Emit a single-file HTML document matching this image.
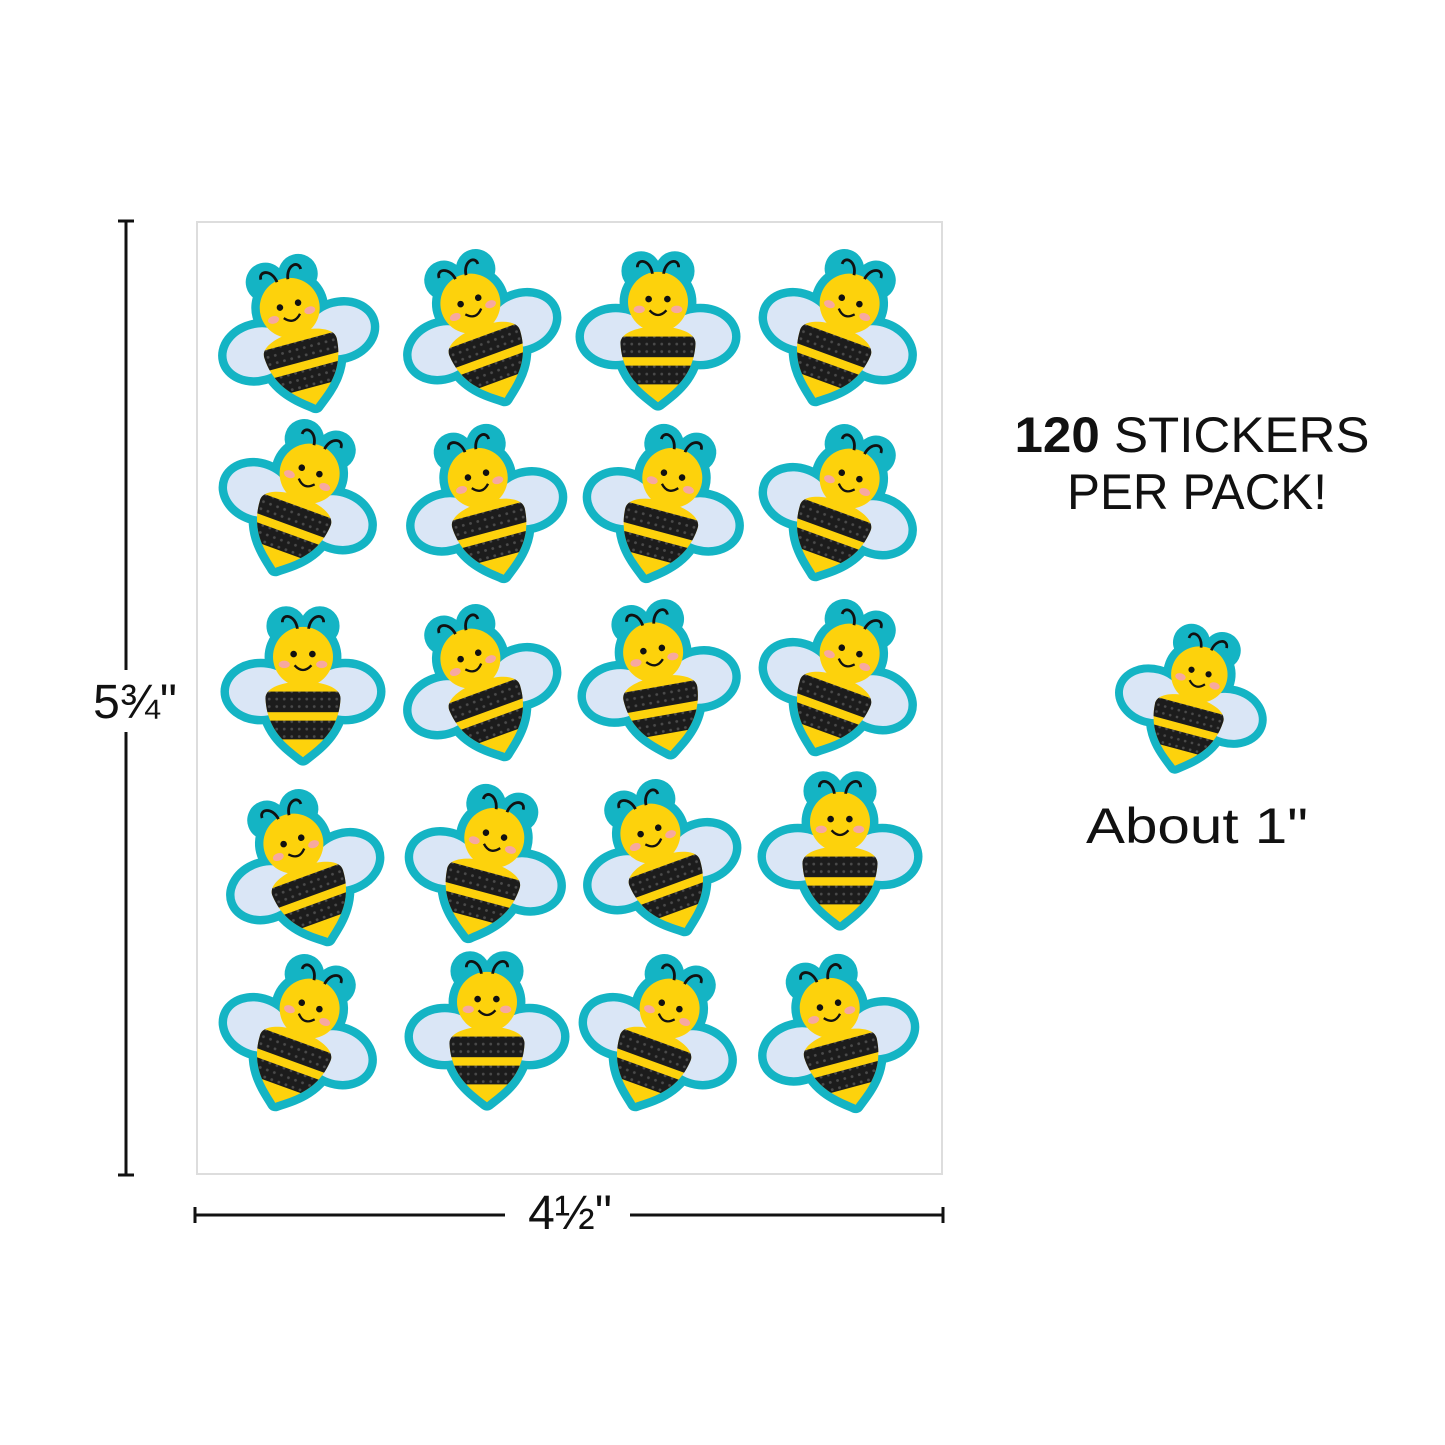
<!DOCTYPE html>
<html><head><meta charset="utf-8"><style>html,body{margin:0;padding:0;background:#fff}svg{display:block}</style></head><body>
<svg width="1445" height="1445" viewBox="0 0 1445 1445" xmlns="http://www.w3.org/2000/svg">
<defs>
<pattern id="dots" width="8" height="8" patternUnits="userSpaceOnUse"><rect width="8" height="8" fill="#1c1c1c"/><circle cx="4" cy="4" r="1.5" fill="#4a4a4a"/></pattern>
<clipPath id="bc"><path d="M-40,20 C-42,-5 42,-5 40,20 C38,55 15,70 0,82 C-15,70 -38,55 -40,20Z"/></clipPath>
<symbol id="bee" viewBox="-80 -80 160 170" overflow="visible">
<g fill="#14b4c4" stroke="#14b4c4" stroke-width="18" stroke-linejoin="round">
<ellipse cx="-45" cy="12" rx="34" ry="26"/><ellipse cx="45" cy="12" rx="34" ry="26"/>
<circle cx="0" cy="-25" r="32"/><circle cx="-18" cy="-58" r="12"/><circle cx="18" cy="-58" r="12"/>
<path d="M-40,20 C-42,-5 42,-5 40,20 C38,55 15,70 0,82 C-15,70 -38,55 -40,20Z"/>
</g>
<ellipse cx="-45" cy="12" rx="34" ry="26" fill="#dae6f6"/><ellipse cx="45" cy="12" rx="34" ry="26" fill="#dae6f6"/>
<path d="M-40,20 C-42,-5 42,-5 40,20 C38,55 15,70 0,82 C-15,70 -38,55 -40,20Z" fill="#fdd20c"/>
<g clip-path="url(#bc)"><rect x="-45" y="12" width="90" height="22" fill="url(#dots)"/><rect x="-45" y="43" width="90" height="20" fill="url(#dots)"/></g>
<circle cx="0" cy="-25" r="32" fill="#fdd20c"/>
<path d="M-6,-55 C-8,-70 -22,-72 -22,-62 M6,-55 C8,-70 22,-72 22,-62" stroke="#111" stroke-width="3" fill="none"/>
<circle cx="-10" cy="-28" r="3.5" fill="#111"/><circle cx="10" cy="-28" r="3.5" fill="#111"/>
<ellipse cx="-20" cy="-17" rx="6" ry="4" fill="#f7a8a0"/><ellipse cx="20" cy="-17" rx="6" ry="4" fill="#f7a8a0"/>
<path d="M-9,-16 Q0,-6 9,-16" stroke="#111" stroke-width="2.5" fill="none"/>
</symbol>
</defs>
<rect x="197" y="222" width="745" height="952" fill="#fff" stroke="#ddd" stroke-width="2"/>
<g>
<use href="#bee" x="222" y="255" width="150" height="160" transform="rotate(-15 297 335)"/>
<use href="#bee" x="405" y="250" width="150" height="160" transform="rotate(-20 480 330)"/>
<use href="#bee" x="583" y="250" width="150" height="160"/>
<use href="#bee" x="765" y="250" width="150" height="160" transform="rotate(20 840 330)"/>
<use href="#bee" x="225" y="420" width="150" height="160" transform="rotate(20 300 500)"/>
<use href="#bee" x="410" y="425" width="150" height="160" transform="rotate(-15 485 505)"/>
<use href="#bee" x="590" y="425" width="150" height="160" transform="rotate(15 665 505)"/>
<use href="#bee" x="765" y="425" width="150" height="160" transform="rotate(20 840 505)"/>
<use href="#bee" x="228" y="605" width="150" height="160"/>
<use href="#bee" x="405" y="605" width="150" height="160" transform="rotate(-20 480 685)"/>
<use href="#bee" x="583" y="600" width="150" height="160" transform="rotate(-10 658 680)"/>
<use href="#bee" x="765" y="600" width="150" height="160" transform="rotate(20 840 680)"/>
<use href="#bee" x="228" y="790" width="150" height="160" transform="rotate(-20 303 870)"/>
<use href="#bee" x="412" y="785" width="150" height="160" transform="rotate(15 487 865)"/>
<use href="#bee" x="585" y="780" width="150" height="160" transform="rotate(-20 660 860)"/>
<use href="#bee" x="765" y="770" width="150" height="160"/>
<use href="#bee" x="225" y="955" width="150" height="160" transform="rotate(20 300 1035)"/>
<use href="#bee" x="412" y="950" width="150" height="160"/>
<use href="#bee" x="585" y="955" width="150" height="160" transform="rotate(20 660 1035)"/>
<use href="#bee" x="762" y="955" width="150" height="160" transform="rotate(-15 837 1035)"/>
<use href="#bee" x="1120" y="625" width="145" height="150" transform="rotate(15 1192 700)"/>
</g>
<g stroke="#111" stroke-width="3">
<line x1="126" y1="221" x2="126" y2="1175"/><line x1="118" y1="221" x2="134" y2="221"/><line x1="118" y1="1175" x2="134" y2="1175"/>
</g>
<rect x="80" y="670" width="110" height="62" fill="#fff"/>
<text x="135" y="718" font-family="Liberation Sans, DejaVu Sans, sans-serif" font-size="48" text-anchor="middle" fill="#111">5¾"</text>
<g stroke="#111" stroke-width="3">
<line x1="195" y1="1215" x2="505" y2="1215"/><line x1="630" y1="1215" x2="943" y2="1215"/>
<line x1="195" y1="1207" x2="195" y2="1223"/><line x1="943" y1="1207" x2="943" y2="1223"/>
</g>
<text x="570" y="1229" font-family="Liberation Sans, DejaVu Sans, sans-serif" font-size="48" text-anchor="middle" fill="#111">4½"</text>
<text x="1192" y="452" font-family="Liberation Sans, sans-serif" font-size="50" text-anchor="middle" fill="#111" textLength="355" lengthAdjust="spacingAndGlyphs"><tspan font-weight="bold">120</tspan> STICKERS</text>
<text x="1197" y="509" font-family="Liberation Sans, sans-serif" font-size="50" text-anchor="middle" fill="#111" textLength="260" lengthAdjust="spacingAndGlyphs">PER PACK!</text>
<text x="1197" y="843" font-family="Liberation Sans, sans-serif" font-size="50" text-anchor="middle" fill="#111" textLength="222" lengthAdjust="spacingAndGlyphs">About 1"</text>
</svg>
</body></html>
